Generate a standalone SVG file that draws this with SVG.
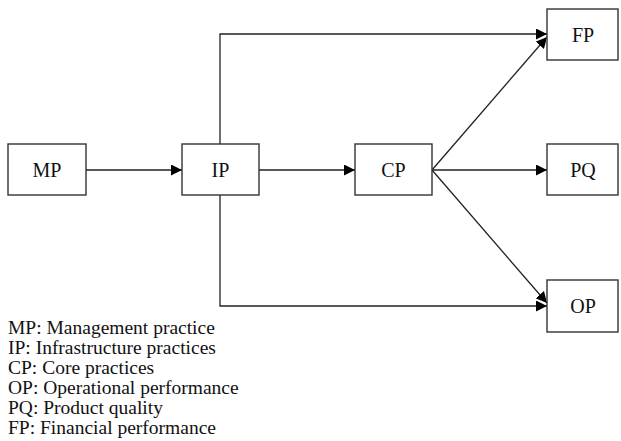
<svg xmlns="http://www.w3.org/2000/svg" width="621" height="441" viewBox="0 0 621 441">
  <style>
    .box rect { fill: #fff; stroke: #333; stroke-width: 1.4; }
    .box text { font-family: "Liberation Serif", "Times New Roman", serif; font-size: 20px; fill: #111; text-anchor: middle; }
    .links path { fill: none; stroke: #222; stroke-width: 1.3; }
    .legend text { font-family: "Liberation Serif", "Times New Roman", serif; font-size: 19.5px; fill: #111; }
  </style>
  <defs>
    <marker id="arrow" viewBox="0 0 10 10" refX="10" refY="5" markerWidth="11" markerHeight="11" markerUnits="userSpaceOnUse" orient="auto">
      <path d="M0,0 L10,5 L0,10 Z" fill="#000"/>
    </marker>
  </defs>

  <rect width="621" height="441" fill="#fff"/>

  <!-- connectors -->
  <g class="links">
    <path d="M86,170 H182" marker-end="url(#arrow)"/>
    <path d="M259,170 H355" marker-end="url(#arrow)"/>
    <path d="M220,144 V34 H547" marker-end="url(#arrow)"/>
    <path d="M220,195 V306 H547" marker-end="url(#arrow)"/>
    <path d="M432,170 L547,37" marker-end="url(#arrow)"/>
    <path d="M432,170 H547" marker-end="url(#arrow)"/>
    <path d="M432,170 L547,303" marker-end="url(#arrow)"/>
  </g>

  <!-- nodes -->
  <g id="MP" class="box">
    <rect x="8" y="144" width="78" height="51"/>
    <text x="47" y="177">MP</text>
  </g>
  <g id="IP" class="box">
    <rect x="182" y="144" width="77" height="51"/>
    <text x="220.5" y="177">IP</text>
  </g>
  <g id="CP" class="box">
    <rect x="355" y="144" width="77" height="51"/>
    <text x="393.5" y="177">CP</text>
  </g>
  <g id="FP" class="box">
    <rect x="547" y="9" width="71" height="51"/>
    <text x="583" y="42">FP</text>
  </g>
  <g id="PQ" class="box">
    <rect x="547" y="144" width="71" height="51"/>
    <text x="583" y="177">PQ</text>
  </g>
  <g id="OP" class="box">
    <rect x="547" y="280" width="71" height="52"/>
    <text x="583" y="313">OP</text>
  </g>

  <!-- abbreviations -->
  <g class="legend">
    <text x="8" y="334">MP: Management practice</text>
    <text x="8" y="354">IP: Infrastructure practices</text>
    <text x="8" y="374">CP: Core practices</text>
    <text x="8" y="394">OP: Operational performance</text>
    <text x="8" y="414">PQ: Product quality</text>
    <text x="8" y="434">FP: Financial performance</text>
  </g>
</svg>
